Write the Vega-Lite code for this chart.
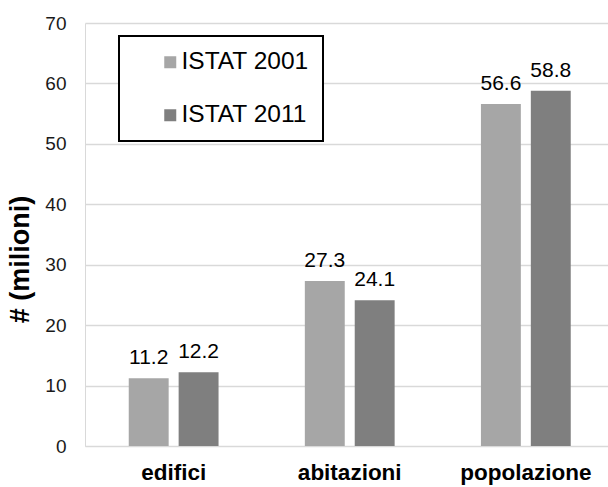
{
  "$schema": "https://vega.github.io/schema/vega-lite/v6.json",
  "width": 523,
  "height": 423,
  "autosize": {"type": "none"},
  "padding": {"left": 85, "top": 23, "right": 0, "bottom": 41},
  "background": "white",
  "config": {
    "view": {"stroke": null},
    "font": "Liberation Sans"
  },
  "data": {
    "values": [
      {"categoria": "edifici", "serie": "ISTAT 2001", "valore": 11.2},
      {"categoria": "edifici", "serie": "ISTAT 2011", "valore": 12.2},
      {"categoria": "abitazioni", "serie": "ISTAT 2001", "valore": 27.3},
      {"categoria": "abitazioni", "serie": "ISTAT 2011", "valore": 24.1},
      {"categoria": "popolazione", "serie": "ISTAT 2001", "valore": 56.6},
      {"categoria": "popolazione", "serie": "ISTAT 2011", "valore": 58.8}
    ]
  },
  "encoding": {
    "x": {
      "field": "categoria",
      "type": "nominal",
      "sort": ["edifici", "abitazioni", "popolazione"],
      "scale": {"paddingInner": 0.49, "paddingOuter": 0.23, "align": 0.54},
      "axis": {
        "title": null,
        "labelAngle": 0,
        "labelFontSize": 22.5,
        "labelFontWeight": "bold",
        "labelColor": "#000000",
        "labelPadding": 15,
        "ticks": false,
        "domain": true,
        "domainColor": "#d9d9d9",
        "domainWidth": 1
      }
    },
    "xOffset": {
      "field": "serie",
      "type": "nominal",
      "scale": {"paddingInner": 0.2, "paddingOuter": 0}
    },
    "y": {
      "field": "valore",
      "type": "quantitative",
      "scale": {"domain": [0, 70]},
      "axis": {
        "title": "# (milioni)",
        "titleFontSize": 27,
        "titleFontWeight": "bold",
        "titleColor": "#000000",
        "titlePadding": 10,
        "titleY": 236,
        "values": [0, 10, 20, 30, 40, 50, 60, 70],
        "labelFontSize": 19,
        "labelColor": "#1a1a1a",
        "labelPadding": 19,
        "ticks": false,
        "domain": true,
        "domainColor": "#d9d9d9",
        "grid": true,
        "gridColor": "#d9d9d9",
        "gridWidth": 1.5
      }
    }
  },
  "layer": [
    {
      "mark": {"type": "bar"},
      "encoding": {
        "color": {
          "field": "serie",
          "type": "nominal",
          "scale": {"domain": ["ISTAT 2001", "ISTAT 2011"], "range": ["#a6a6a6", "#7f7f7f"]},
          "legend": {
            "title": null,
            "orient": "none",
            "legendX": 34,
            "legendY": 13,
            "padding": 14,
            "symbolOffset": 25,
            "symbolType": "square",
            "symbolSize": 144,
            "symbolStrokeWidth": 0,
            "labelFontSize": 24.5,
            "labelColor": "#000000",
            "labelOffset": -1,
            "rowPadding": 28,
            "strokeColor": "#000000",
            "fillColor": "white",
            "labelExpr": "datum.label + '\u00a0\u00a0\u00a0\u00a0\u00a0\u00a0'",
            "encode": {"legend": {"update": {"strokeWidth": {"value": 2}}}}
          }
        }
      }
    },
    {
      "mark": {"type": "text", "baseline": "alphabetic", "dy": -14, "fontSize": 21, "color": "#000000"},
      "encoding": {
        "text": {"field": "valore", "type": "quantitative", "format": ".1f"}
      }
    }
  ]
}
